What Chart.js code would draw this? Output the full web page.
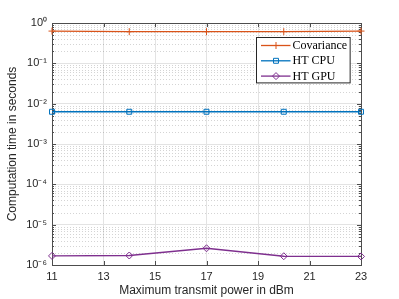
<!DOCTYPE html>
<html>
<head>
<meta charset="utf-8">
<script src="https://cdn.jsdelivr.net/npm/chart.js@4/dist/chart.umd.min.js"></script>
<style>
html,body{margin:0;padding:0;background:#fff;}
#wrap{width:399px;height:299px;position:relative;}
</style>
</head>
<body>
<div id="wrap"><canvas id="c" width="399" height="299"></canvas></div>
<script>
// ---- data ----
const xValues = [11, 14, 17, 20, 23];
const covariance = [0.63, 0.61, 0.61, 0.61, 0.63];
const htCpu = [0.0063, 0.0063, 0.0063, 0.0063, 0.0063];
const htGpu = [1.68e-6, 1.72e-6, 2.6e-6, 1.65e-6, 1.63e-6];
const seriesNames = ['Covariance', 'HT CPU', 'HT GPU'];
const xTickValues = [11, 13, 15, 17, 19, 21, 23];
const yDecadeExps = [-6, -5, -4, -3, -2, -1, 0];
const supMap = {'-':'\u207B','0':'\u2070','1':'\u00B9','2':'\u00B2','3':'\u00B3','4':'\u2074','5':'\u2075','6':'\u2076','7':'\u2077','8':'\u2078','9':'\u2079'};
const toSup = s => String(s).split('').map(ch => supMap[ch] || ch).join('');

const colors = ['#D95319', '#0072BD', '#7E2F8E'];
const styles = ['cross', 'rect', 'rectRot'];
const axisColor = '#262626';
const sans = '"Liberation Sans", Arial, Helvetica, sans-serif';

function pts(ys){ return xValues.map((x,i)=>({x:x, y:ys[i]})); }

// all log ticks (decades + minors)
const yAllTicks = [];
for (let e = -6; e < 0; e++) {
  for (let s = 1; s <= 9; s++) yAllTicks.push(+(s * Math.pow(10, e)).toPrecision(3));
}
yAllTicks.push(1);
const isDecade = v => Math.abs(Math.log10(v) - Math.round(Math.log10(v))) < 1e-9;

const matlabPlugin = {
  id: 'matlabAxes',
  beforeDatasetsDraw(chart) {
    const {ctx, chartArea: a, scales} = chart;
    const y = scales.y, x = scales.x;
    ctx.save();
    // minor dotted y grid
    ctx.strokeStyle = 'rgba(38,38,38,0.2)';
    ctx.lineWidth = 1;
    ctx.setLineDash([1, 2]);
    yAllTicks.forEach(v => {
      if (isDecade(v)) return;
      const py = Math.round(y.getPixelForValue(v)) + 0.5;
      ctx.beginPath(); ctx.moveTo(a.left, py); ctx.lineTo(a.right, py); ctx.stroke();
    });
    ctx.setLineDash([]);
    // box
    ctx.strokeStyle = '#4d4d4d';
    ctx.lineWidth = 1;
    ctx.strokeRect(Math.round(a.left) + 0.5, Math.round(a.top) + 0.5, Math.round(a.right - a.left), Math.round(a.bottom - a.top));
    // inner ticks y
    yAllTicks.forEach(v => {
      const py = Math.round(y.getPixelForValue(v)) + 0.5;
      const len = isDecade(v) ? 4 : 2;
      ctx.beginPath();
      ctx.moveTo(a.left, py); ctx.lineTo(a.left + len, py);
      ctx.moveTo(a.right, py); ctx.lineTo(a.right - len, py);
      ctx.stroke();
    });
    // inner ticks x
    xTickValues.forEach(v => {
      const px = Math.round(x.getPixelForValue(v)) + 0.5;
      ctx.beginPath();
      ctx.moveTo(px, a.bottom); ctx.lineTo(px, a.bottom - 4);
      ctx.moveTo(px, a.top); ctx.lineTo(px, a.top + 4);
      ctx.stroke();
    });
    ctx.restore();
  },
  afterDatasetsDraw(chart) {
    const {ctx, chartArea: a} = chart;
    ctx.save();
    ctx.font = '12px "Liberation Serif", "Times New Roman", serif';
    const texts = chart.data.datasets.map(d => d.label);
    const tw = Math.max(...texts.map(t => ctx.measureText(t).width));
    const rowH = 15.3;
    const boxW = 36 + tw + 3;
    const boxH = 8.3 + rowH * (texts.length - 1) + 6.5;
    const bx = Math.round(a.right - 11 - boxW) + 0.5;
    const by = Math.round(a.top + 14) + 0.5;
    ctx.fillStyle = '#fff';
    ctx.fillRect(bx, by, boxW, boxH);
    ctx.strokeStyle = '#262626';
    ctx.lineWidth = 1;
    ctx.strokeRect(bx, by, boxW, boxH);
    chart.data.datasets.forEach((d, i) => {
      const cy = by + 8 + i * rowH;
      ctx.strokeStyle = d.borderColor;
      ctx.lineWidth = 1.3;
      ctx.beginPath(); ctx.moveTo(bx + 4.5, cy); ctx.lineTo(bx + 34, cy); ctx.stroke();
      ctx.lineWidth = 1;
      ctx.fillStyle = 'rgba(0,0,0,0)';
      Chart.helpers.drawPoint(ctx, {
        pointStyle: d.pointStyle, radius: d.pointRadius, rotation: 0,
        borderWidth: 1
      }, bx + 19.5, cy);
      ctx.fillStyle = '#000';
      ctx.textBaseline = 'middle';
      ctx.textAlign = 'left';
      ctx.fillText(d.label, bx + 36, cy + 0.5);
    });
    ctx.restore();
  }
};

const datasets = [covariance, htCpu, htGpu].map((ys, i) => ({
  label: seriesNames[i],
  data: pts(ys),
  borderColor: colors[i],
  backgroundColor: 'rgba(0,0,0,0)',
  pointBackgroundColor: 'rgba(0,0,0,0)',
  pointBorderColor: colors[i],
  pointStyle: styles[i],
  pointRadius: 3.5,
  pointBorderWidth: 1,
  borderWidth: 1.3,
  tension: 0,
  clip: false
}));

new Chart(document.getElementById('c'), {
  type: 'line',
  data: { datasets },
  options: {
    responsive: false,
    animation: false,
    events: [],
    layout: { padding: { left: 2, right: 38, top: 23, bottom: 0 } },
    plugins: { legend: { display: false }, tooltip: { enabled: false } },
    scales: {
      x: {
        type: 'linear', min: 11, max: 23,
        afterBuildTicks: s => { s.ticks = xTickValues.map(v => ({value: v})); },
        afterFit: s => { s.height = 34; },
        grid: { color: '#e3e3e3', drawTicks: false, lineWidth: 1 },
        border: { display: false },
        ticks: { color: axisColor, font: { family: sans, size: 11 }, padding: 5, autoSkip: false, maxRotation: 0,
          callback: v => String(v) },
        title: { display: true, text: 'Maximum transmit power in dBm', color: axisColor,
          font: { family: sans, size: 12 }, padding: { top: 0, bottom: 1 } }
      },
      y: {
        type: 'logarithmic', min: 1e-6, max: 1,
        afterBuildTicks: s => { s.ticks = yAllTicks.map(v => ({value: v, major: isDecade(v)})); },
        afterFit: s => { s.width = 50; },
        grid: { color: c => (c.tick && isDecade(c.tick.value)) ? '#e3e3e3' : 'rgba(0,0,0,0)', drawTicks: false },
        border: { display: false },
        ticks: { color: axisColor, font: { family: sans, size: 11 }, padding: 5, autoSkip: false,
          callback: v => isDecade(v) ? '10' + toSup(Math.round(Math.log10(v))) : '' },
        title: { display: true, text: 'Computation time in seconds', color: axisColor,
          font: { family: sans, size: 12 }, padding: { top: 3, bottom: 4 } }
      }
    }
  },
  plugins: [matlabPlugin]
});
</script>
</body>
</html>
